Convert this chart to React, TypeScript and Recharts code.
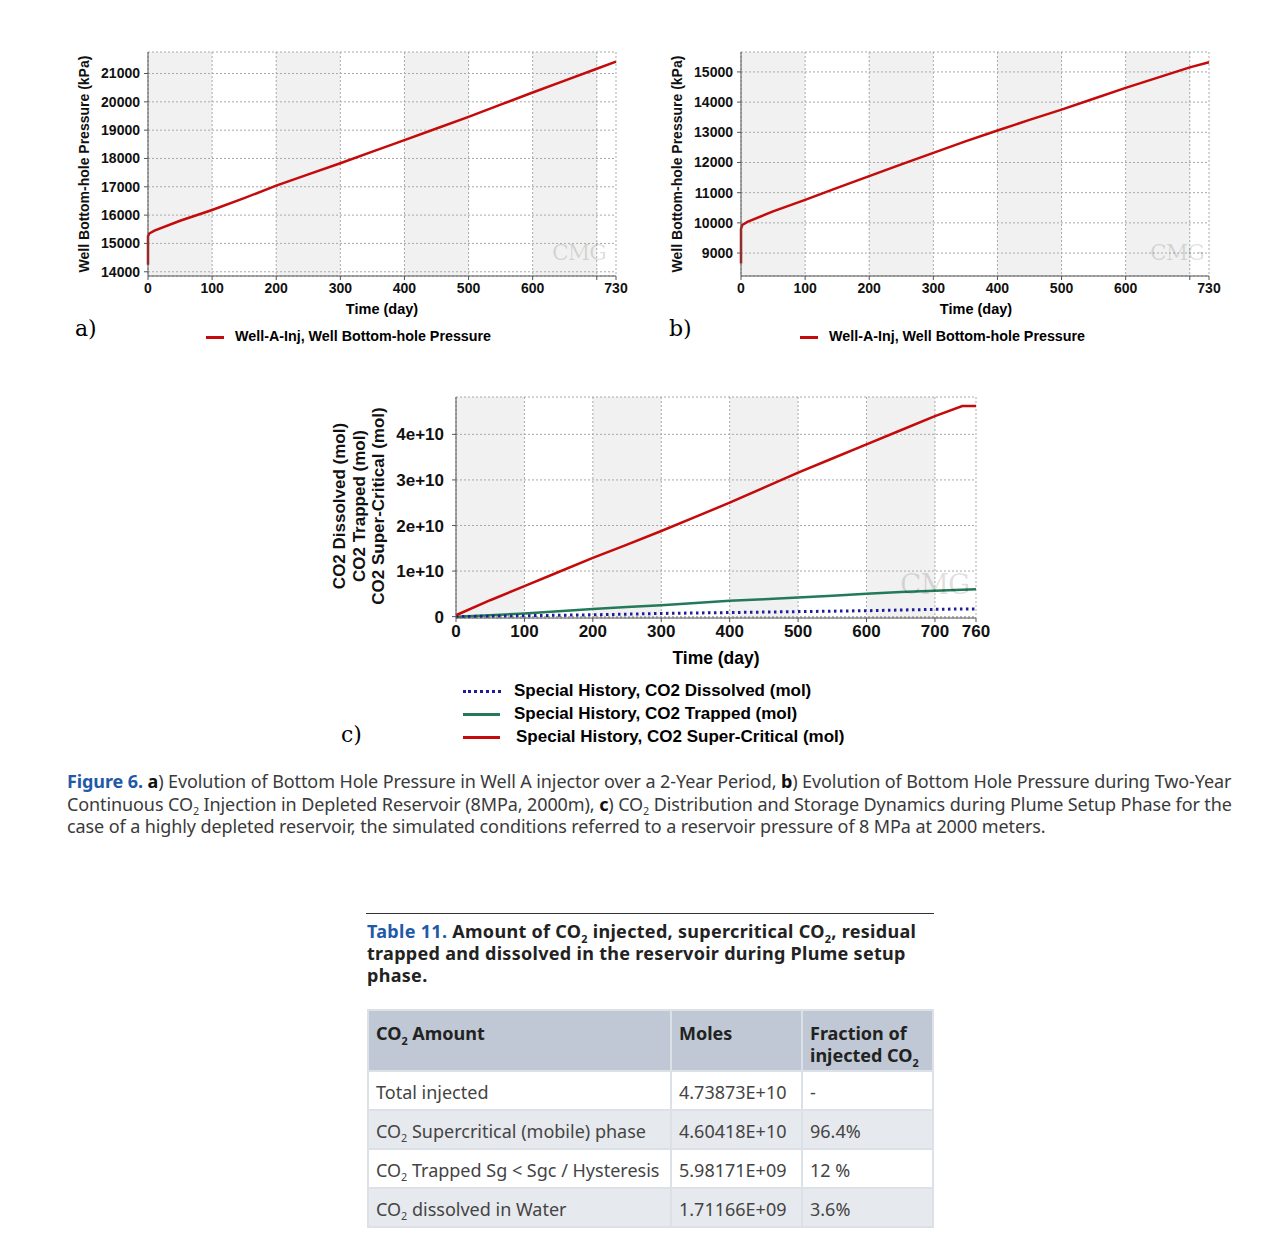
import React from "react";
import { CartesianGrid, Line, LineChart, XAxis, YAxis } from "recharts";

// a) bottom-hole pressure, well A (kPa)
const timeA = [0, 0, 2, 10, 50, 100, 150, 200, 250, 300, 350, 400, 450, 500, 550, 600, 650, 700, 730];
const pressureA = [14250, 15250, 15350, 15450, 15800, 16180, 16600, 17040, 17440, 17830, 18240, 18650, 19060, 19470, 19900, 20330, 20750, 21170, 21420];

// b) bottom-hole pressure, depleted reservoir (kPa)
const timeB = [0, 0, 2, 10, 50, 100, 150, 200, 250, 300, 350, 400, 450, 500, 550, 600, 650, 700, 730];
const pressureB = [8650, 9800, 9930, 10030, 10380, 10760, 11160, 11550, 11940, 12320, 12700, 13060, 13410, 13750, 14110, 14470, 14810, 15150, 15320];

// c) CO2 distribution (mol)
const timeC = [0, 50, 100, 150, 200, 250, 300, 350, 400, 450, 500, 550, 600, 650, 700, 740, 760];
const co2Dissolved = [0, 0.01e10, 0.02e10, 0.03e10, 0.04e10, 0.055e10, 0.07e10, 0.08e10, 0.09e10, 0.1e10, 0.11e10, 0.12e10, 0.13e10, 0.145e10, 0.16e10, 0.17e10, 0.17e10];
const co2Trapped = [0, 0.03e10, 0.07e10, 0.12e10, 0.17e10, 0.21e10, 0.25e10, 0.3e10, 0.35e10, 0.38e10, 0.42e10, 0.46e10, 0.5e10, 0.54e10, 0.57e10, 0.59e10, 0.6e10];
const co2SuperCritical = [0.03e10, 0.36e10, 0.67e10, 0.98e10, 1.29e10, 1.58e10, 1.88e10, 2.19e10, 2.5e10, 2.83e10, 3.16e10, 3.47e10, 3.78e10, 4.09e10, 4.4e10, 4.62e10, 4.62e10];

const ticks730 = [0, 100, 200, 300, 400, 500, 600, 700, 730];
const ticks760 = [0, 100, 200, 300, 400, 500, 600, 700, 760];
const ticksPressureA = [14000, 15000, 16000, 17000, 18000, 19000, 20000, 21000];
const ticksPressureB = [9000, 10000, 11000, 12000, 13000, 14000, 15000];
const ticksMoles = [0, 1e10, 2e10, 3e10, 4e10];

const dataA = timeA.map((t, i) => ({ t, p: pressureA[i] }));
const dataB = timeB.map((t, i) => ({ t, p: pressureB[i] }));
const dataC = timeC.map((t, i) => ({
  t,
  dissolved: co2Dissolved[i],
  trapped: co2Trapped[i],
  superCritical: co2SuperCritical[i],
}));

const RED = "#c40a0a";
const GREEN = "#237a58";
const BLUE = "#1d1d9a";
const AXIS = "#555";
const chartFont = "'Liberation Sans', Arial, sans-serif";
const textFont = "'Noto Sans', 'Open Sans', sans-serif";

const hide700 = (v: number) => (v === 700 ? "" : String(v));
const sci = (v: number) => (v === 0 ? "0" : `${v / 1e10}e+10`);

const abs = (left: number, top: number): React.CSSProperties => ({ position: "absolute", left, top });

function VTitle({ x, y, size, children }: { x: number; y: number; size: number; children: React.ReactNode }) {
  return (
    <div
      style={{
        ...abs(x, y),
        transform: "translate(-50%, -50%) rotate(-90deg)",
        whiteSpace: "nowrap",
        font: `bold ${size}px ${chartFont}`,
        color: "#111",
      }}
    >
      {children}
    </div>
  );
}

function Watermark({ x, y, size }: { x: number; y: number; size: number }) {
  return (
    <div style={{ ...abs(x, y), font: `${size}px 'DejaVu Serif', serif`, color: "rgba(0,0,0,0.13)", letterSpacing: -1 }}>
      CMG
    </div>
  );
}

function PressureChart({ left, data, ticks, domain }: { left: number; data: { t: number; p: number }[]; ticks: number[]; domain: [number, number] }) {
  return (
    <div style={{ ...abs(left, 40) }}>
      <LineChart width={580} height={264} data={data} margin={{ top: 12, right: 24, left: 28, bottom: 0 }}>
        <CartesianGrid stroke="#a9a9a9" strokeDasharray="2 2" verticalFill={["#f1f1f1", "#ffffff"]} />
        <XAxis
          dataKey="t"
          type="number"
          domain={[0, 730]}
          ticks={ticks730}
          tickFormatter={hide700}
          height={28}
          tickSize={4}
          tickMargin={3}
          stroke={AXIS}
          tick={{ fill: "#111", fontSize: 14, fontWeight: 700, fontFamily: chartFont }}
        />
        <YAxis
          type="number"
          domain={domain}
          ticks={ticks}
          width={60}
          tickSize={4}
          tickMargin={4}
          stroke={AXIS}
          tick={{ fill: "#111", fontSize: 14, fontWeight: 700, fontFamily: chartFont }}
        />
        <Line type="linear" dataKey="p" stroke={RED} strokeWidth={2.5} dot={false} isAnimationActive={false} />
      </LineChart>
    </div>
  );
}

function LegendLine({ x, y, w, color, dotted }: { x: number; y: number; w: number; color: string; dotted?: boolean }) {
  return (
    <div
      style={{
        ...abs(x, y - 1.5),
        width: w,
        borderTop: dotted ? `3px dotted ${color}` : `3px solid ${color}`,
      }}
    />
  );
}

const Sub = () => (
  <span style={{ fontSize: "0.6em", position: "relative", top: "0.45em", lineHeight: 0 }}>2</span>
);

const cell: React.CSSProperties = {
  padding: "0 7px",
  borderRight: "2px solid #dce1e7",
  borderBottom: "2px solid #dce1e7",
  whiteSpace: "nowrap",
};

const tableRows: [React.ReactNode, string, string][] = [
  ["Total injected", "4.73873E+10", "-"],
  [<>CO<Sub /> Supercritical (mobile) phase</>, "4.60418E+10", "96.4%"],
  [<>CO<Sub /> Trapped Sg &lt; Sgc / Hysteresis</>, "5.98171E+09", "12 %"],
  [<>CO<Sub /> dissolved in Water</>, "1.71166E+09", "3.6%"],
];

const legendText: React.CSSProperties = { font: `bold 17px ${chartFont}`, whiteSpace: "nowrap", lineHeight: "20px" };

export default function App() {
  return (
    <div style={{ position: "absolute", left: 0, top: 0, width: 1282, height: 1249, background: "#fff" }}>
      {/* a) */}
      <PressureChart left={60} data={dataA} ticks={ticksPressureA} domain={[13850, 21760]} />
      <VTitle x={84} y={164} size={14}>Well Bottom-hole Pressure (kPa)</VTitle>
      <div style={{ ...abs(382, 301), transform: "translateX(-50%)", font: `bold 14.5px ${chartFont}`, whiteSpace: "nowrap" }}>Time (day)</div>
      <Watermark x={552} y={240} size={22} />
      <div style={{ ...abs(75, 316), font: "22px 'DejaVu Serif', serif" }}>a)</div>
      <LegendLine x={206} y={337} w={18} color={RED} />
      <div style={{ ...abs(235, 328), font: `bold 14.3px ${chartFont}`, whiteSpace: "nowrap" }}>Well-A-Inj, Well Bottom-hole Pressure</div>

      {/* b) */}
      <PressureChart left={653} data={dataB} ticks={ticksPressureB} domain={[8240, 15660]} />
      <VTitle x={677} y={164} size={14}>Well Bottom-hole Pressure (kPa)</VTitle>
      <div style={{ ...abs(976, 301), transform: "translateX(-50%)", font: `bold 14.5px ${chartFont}`, whiteSpace: "nowrap" }}>Time (day)</div>
      <Watermark x={1150} y={240} size={22} />
      <div style={{ ...abs(669, 316), font: "22px 'DejaVu Serif', serif" }}>b)</div>
      <LegendLine x={800} y={337} w={18} color={RED} />
      <div style={{ ...abs(829, 328), font: `bold 14.3px ${chartFont}`, whiteSpace: "nowrap" }}>Well-A-Inj, Well Bottom-hole Pressure</div>

      {/* c) */}
      <div style={abs(330, 385)}>
        <LineChart width={670} height={262} data={dataC} margin={{ top: 12, right: 24, left: 66, bottom: 0 }}>
          <CartesianGrid stroke="#a9a9a9" strokeDasharray="2 2" verticalFill={["#f1f1f1", "#ffffff"]} />
          <XAxis
            dataKey="t"
            type="number"
            domain={[0, 760]}
            ticks={ticks760}
            tickFormatter={(v: number) => String(v)}
            height={29}
            tickSize={4}
            tickMargin={3}
            stroke={AXIS}
            tick={{ fill: "#111", fontSize: 17, fontWeight: 700, fontFamily: chartFont }}
          />
          <YAxis
            type="number"
            domain={[-0.03e10, 4.82e10]}
            ticks={ticksMoles}
            tickFormatter={sci}
            width={60}
            tickSize={4}
            tickMargin={8}
            stroke={AXIS}
            tick={{ fill: "#111", fontSize: 17, fontWeight: 700, fontFamily: chartFont }}
          />
          <Line type="linear" dataKey="trapped" stroke={GREEN} strokeWidth={2.5} dot={false} isAnimationActive={false} />
          <Line type="linear" dataKey="dissolved" stroke={BLUE} strokeWidth={3} strokeDasharray="2.5 3.5" dot={false} isAnimationActive={false} />
          <Line type="linear" dataKey="superCritical" stroke={RED} strokeWidth={2.5} dot={false} isAnimationActive={false} />
        </LineChart>
      </div>
      <VTitle x={340} y={506} size={17}>CO2 Dissolved (mol)</VTitle>
      <VTitle x={360} y={506} size={17}>CO2 Trapped (mol)</VTitle>
      <VTitle x={379} y={506} size={17}>CO2 Super-Critical (mol)</VTitle>
      <div style={{ ...abs(716, 648), transform: "translateX(-50%)", font: `bold 17.5px ${chartFont}`, whiteSpace: "nowrap" }}>Time (day)</div>
      <Watermark x={900} y={568} size={28} />
      <LegendLine x={463} y={691} w={38} color={BLUE} dotted />
      <LegendLine x={463} y={714} w={37} color={GREEN} />
      <LegendLine x={463} y={737} w={37} color={RED} />
      <div style={{ ...abs(514, 681), ...legendText }}>Special History, CO2 Dissolved (mol)</div>
      <div style={{ ...abs(514, 704), ...legendText }}>Special History, CO2 Trapped (mol)</div>
      <div style={{ ...abs(516, 727), ...legendText }}>Special History, CO2 Super-Critical (mol)</div>
      <div style={{ ...abs(341, 722), font: "22px 'DejaVu Serif', serif" }}>c)</div>

      {/* caption */}
      <div
        style={{
          ...abs(67, 770),
          font: `18px ${textFont}`,
          fontStretch: "semi-condensed",
          letterSpacing: "-0.1px",
          lineHeight: "22.5px",
          color: "#3a3a3a",
          whiteSpace: "nowrap",
        }}
      >
        <b style={{ color: "#1f5aa8" }}>Figure 6.</b> <b style={{ color: "#111" }}>a</b>) Evolution of Bottom Hole Pressure in Well A injector over a 2-Year Period, <b style={{ color: "#111" }}>b</b>) Evolution of Bottom Hole Pressure during Two-Year
        <br />
        Continuous CO<Sub /> Injection in Depleted Reservoir (8MPa, 2000m), <b style={{ color: "#111" }}>c</b>) CO<Sub /> Distribution and Storage Dynamics during Plume Setup Phase for the
        <br />
        case of a highly depleted reservoir, the simulated conditions referred to a reservoir pressure of 8 MPa at 2000 meters.
      </div>

      {/* table */}
      <div style={{ ...abs(366, 913), width: 568, borderTop: "1.5px solid #333" }} />
      <div
        style={{
          ...abs(367, 920),
          font: `bold 18px ${textFont}`,
          fontStretch: "semi-condensed",
          letterSpacing: "0.3px",
          lineHeight: "22px",
          color: "#222",
          whiteSpace: "nowrap",
        }}
      >
        <span style={{ color: "#1f5aa8" }}>Table 11.</span> Amount of CO<Sub /> injected, supercritical CO<Sub />, residual
        <br />
        trapped and dissolved in the reservoir during Plume setup
        <br />
        phase.
      </div>
      <table
        style={{
          ...abs(367, 1009),
          borderCollapse: "collapse",
          tableLayout: "fixed",
          width: 565,
          font: `18px ${textFont}`,
          fontStretch: "semi-condensed",
          color: "#444",
          borderLeft: "2px solid #dce1e7",
          borderTop: "2px solid #dce1e7",
        }}
      >
        <colgroup>
          <col style={{ width: 303 }} />
          <col style={{ width: 131 }} />
          <col style={{ width: 131 }} />
        </colgroup>
        <thead>
          <tr style={{ height: 61, background: "#bfc8d4", color: "#222", fontWeight: 700, lineHeight: "22px" }}>
            <td style={{ ...cell, verticalAlign: "top", paddingTop: 11 }}>CO<Sub /> Amount</td>
            <td style={{ ...cell, verticalAlign: "top", paddingTop: 11 }}>Moles</td>
            <td style={{ ...cell, verticalAlign: "top", paddingTop: 11 }}>
              Fraction of
              <br />
              injected CO<Sub />
            </td>
          </tr>
        </thead>
        <tbody>
          {tableRows.map((r, i) => (
            <tr key={i} style={{ height: 39, background: i % 2 === 0 ? "#ffffff" : "#e6e9ee" }}>
              <td style={{ ...cell, paddingTop: 2 }}>{r[0]}</td>
              <td style={{ ...cell, paddingTop: 2 }}>{r[1]}</td>
              <td style={{ ...cell, paddingTop: 2 }}>{r[2]}</td>
            </tr>
          ))}
        </tbody>
      </table>
    </div>
  );
}
